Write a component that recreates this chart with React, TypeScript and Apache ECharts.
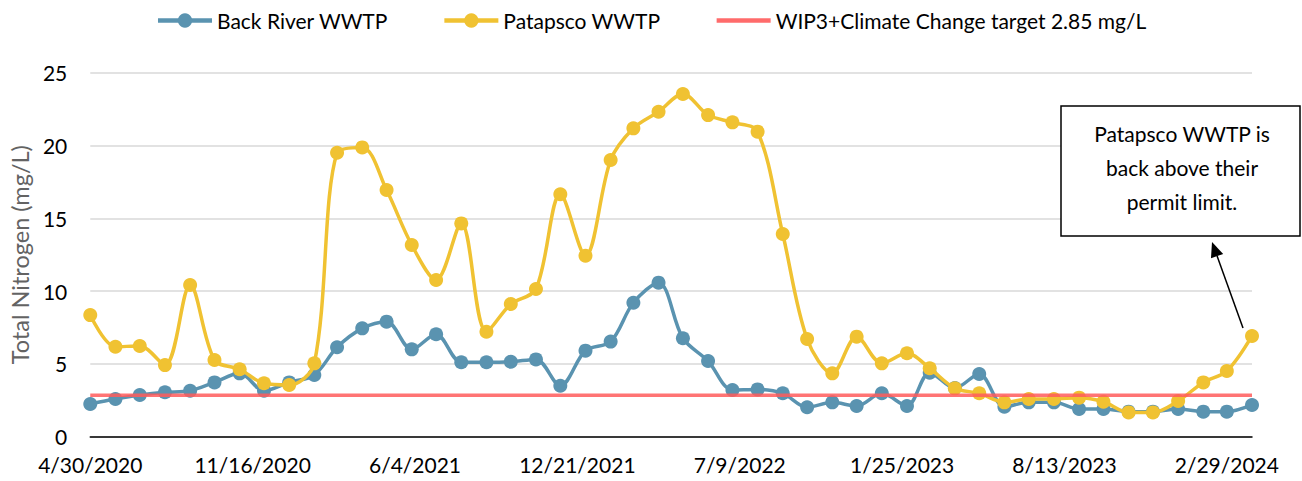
import React, { useEffect, useRef } from "react";
import * as echarts from "echarts";

const dates = [
  "2020-04-30", "2020-05-31", "2020-06-30", "2020-07-31", "2020-08-31", "2020-09-30",
  "2020-10-31", "2020-11-30", "2020-12-31", "2021-01-31", "2021-02-28", "2021-03-31",
  "2021-04-30", "2021-05-31", "2021-06-30", "2021-07-31", "2021-08-31", "2021-09-30",
  "2021-10-31", "2021-11-30", "2021-12-31", "2022-01-31", "2022-02-28", "2022-03-31",
  "2022-04-30", "2022-05-31", "2022-06-30", "2022-07-31", "2022-08-31", "2022-09-30",
  "2022-10-31", "2022-11-30", "2022-12-31", "2023-01-31", "2023-02-28", "2023-03-31",
  "2023-04-30", "2023-05-31", "2023-06-30", "2023-07-31", "2023-08-31", "2023-09-30",
  "2023-10-31", "2023-11-30", "2023-12-31", "2024-01-31", "2024-02-29", "2024-03-31",
];

const backRiver = [
  2.25, 2.59, 2.86, 3.05, 3.16, 3.73, 4.35, 3.16, 3.73, 4.24,
  6.14, 7.44, 7.9, 6.0, 7.04, 5.11, 5.11, 5.15, 5.31, 3.5,
  5.91, 6.53, 9.2, 10.58, 6.76, 5.2, 3.21, 3.25, 2.98, 2.02,
  2.36, 2.11, 2.98, 2.11, 4.4, 3.34, 4.31, 2.06, 2.36, 2.36,
  1.9, 1.9, 1.72, 1.72, 1.9, 1.72, 1.72, 2.18,
];

const patapsco = [
  8.35, 6.18, 6.23, 4.92, 10.42, 5.27, 4.63, 3.67, 3.55, 5.04,
  19.5, 19.87, 16.94, 13.17, 10.76, 14.65, 7.21, 9.11, 10.14, 16.65,
  12.43, 19.0, 21.18, 22.32, 23.54, 22.09, 21.59, 20.95, 13.92, 6.71,
  4.35, 6.87, 5.04, 5.73, 4.7, 3.32, 2.98, 2.36, 2.59, 2.59,
  2.68, 2.4, 1.67, 1.67, 2.45, 3.73, 4.51, 6.92,
];

const targetValue = 2.85;
const seriesNames = ["Back River WWTP", "Patapsco WWTP", "WIP3+Climate Change target 2.85 mg/L"];
const yTicks = [0, 5, 10, 15, 20, 25];
const annotationLines = ["Patapsco WWTP is", "back above their", "permit limit."];

const DAY = 86400000;
const toMs = (s: string) => {
  const [y, m, d] = s.split("-").map(Number);
  return Date.UTC(y, m - 1, d);
};
const origin = toMs(dates[0]);
const dayOffsets = dates.map((d) => Math.round((toMs(d) - origin) / DAY));
const lastDay = dayOffsets[dayOffsets.length - 1];

const fmtDate = (v: number) => {
  const dt = new Date(origin + v * DAY);
  return `${dt.getUTCMonth() + 1}/${dt.getUTCDate()}/${dt.getUTCFullYear()}`;
};

const FONT = "Lato";
const BLUE = "#5A93B0";
const YELLOW = "#F0C232";
const RED = "#FF5C5C";

export default function App() {
  const ref = useRef<HTMLDivElement>(null);
  useEffect(() => {
    document.body.style.margin = "0";
    if (!ref.current) return;
    const chart = echarts.init(ref.current, undefined, { renderer: "svg" });

    // arrow geometry
    const tail = [1243, 328];
    const tip = [1212, 242];
    const dx = tip[0] - tail[0];
    const dy = tip[1] - tail[1];
    const len = Math.sqrt(dx * dx + dy * dy);
    const ux = dx / len;
    const uy = dy / len;
    const headLen = 15;
    const headHalf = 6.5;
    const bx = tip[0] - ux * headLen;
    const by = tip[1] - uy * headLen;
    const nx = -uy;
    const ny = ux;

    chart.setOption({
      animation: false,
      textStyle: { fontFamily: FONT },
      legend: {
        top: 5,
        left: "center",
        itemWidth: 54,
        itemHeight: 18,
        itemGap: 54,
        textStyle: { fontFamily: FONT, fontSize: 21, color: "#000" },
        data: [
          { name: seriesNames[0], lineStyle: { width: 4.5 } },
          { name: seriesNames[1], lineStyle: { width: 4.5 } },
          {
            name: seriesNames[2],
            itemStyle: { opacity: 0 },
            lineStyle: { width: 4.5, color: "#FF6B6B", opacity: 1 },
          },
        ],
      },
      grid: { left: 90, right: 50, top: 72.7, bottom: 44.3, containLabel: false },
      xAxis: {
        type: "value",
        min: 0,
        max: lastDay,
        interval: 200,
        axisLine: { show: true, onZero: false, lineStyle: { color: "#000", width: 1.5 } },
        axisTick: { show: false },
        splitLine: { show: false },
        axisLabel: {
          showMaxLabel: false,
          formatter: (v: number) => (v % 200 === 0 ? fmtDate(v) : ""),
          fontFamily: FONT,
          fontSize: 21,
          color: "#000",
          margin: 17,
        },
      },
      yAxis: {
        type: "value",
        min: yTicks[0],
        max: yTicks[yTicks.length - 1],
        interval: yTicks[1] - yTicks[0],
        name: "Total Nitrogen (mg/L)",
        nameLocation: "middle",
        nameGap: 55,
        nameTextStyle: { fontFamily: FONT, fontSize: 23.5, color: "#636363" },
        axisLine: { show: false },
        axisTick: { show: false },
        splitLine: { lineStyle: { color: "#d9d9d9", width: 1.5 } },
        axisLabel: { fontFamily: FONT, fontSize: 21, color: "#000", margin: 23 },
      },
      series: [
        {
          name: seriesNames[0],
          type: "line",
          data: dayOffsets.map((d, i) => [d, backRiver[i]]),
          smooth: 0.33,
          symbol: "circle",
          symbolSize: 14,
          showSymbol: true,
          lineStyle: { color: BLUE, width: 3.5 },
          itemStyle: { color: BLUE },
          z: 2,
        },
        {
          name: seriesNames[1],
          type: "line",
          data: dayOffsets.map((d, i) => [d, patapsco[i]]),
          smooth: 0.33,
          symbol: "circle",
          symbolSize: 14,
          lineStyle: { color: YELLOW, width: 3.5 },
          itemStyle: { color: YELLOW },
          z: 3,
        },
        {
          name: seriesNames[2],
          type: "line",
          data: [
            [0, targetValue],
            [lastDay, targetValue],
          ],
          symbol: "none",
          lineStyle: { color: RED, width: 3.5, opacity: 0.85 },
          itemStyle: { color: RED },
          z: 4,
        },
      ],
      graphic: [
        {
          type: "rect",
          shape: { x: 1061, y: 106, width: 239, height: 130 },
          style: { fill: "#fff", stroke: "#000", lineWidth: 1.5 },
          z: 10,
        },
        ...annotationLines.map((t, i) => ({
          type: "text",
          x: 1182,
          y: 133 + i * 34,
          style: {
            text: t,
            fontFamily: FONT,
            fontSize: 21,
            fill: "#000",
            align: "center",
            verticalAlign: "middle",
          },
          z: 11,
        })),
        {
          type: "line",
          shape: { x1: tail[0], y1: tail[1], x2: bx, y2: by },
          style: { stroke: "#000", lineWidth: 1.5 },
          z: 10,
        },
        {
          type: "polygon",
          shape: {
            points: [
              [tip[0], tip[1]],
              [bx + nx * headHalf, by + ny * headHalf],
              [bx - nx * headHalf, by - ny * headHalf],
            ],
          },
          style: { fill: "#000" },
          z: 10,
        },
      ],
    });
    return () => chart.dispose();
  }, []);
  return <div ref={ref} style={{ width: 1302, height: 481, overflow: "hidden" }} />;
}
